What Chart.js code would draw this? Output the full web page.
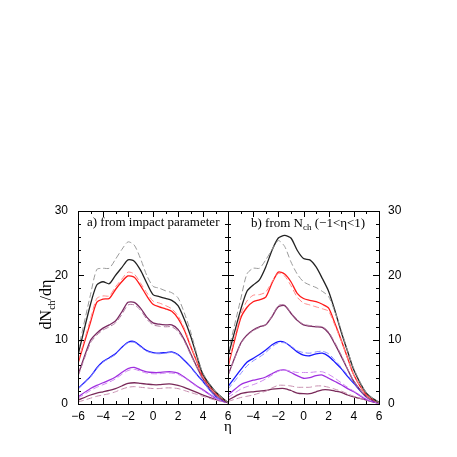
<!DOCTYPE html>
<html>
<head>
<meta charset="utf-8">
<script src="https://cdn.jsdelivr.net/npm/chart.js@4"></script>
<style>
html,body{margin:0;padding:0;background:#fff;width:457px;height:457px;overflow:hidden;}
#wa{position:absolute;left:0;top:190px;width:240px;height:250px;}
#wb{position:absolute;left:218px;top:190px;width:239px;height:250px;}
</style>
</head>
<body>
<div id="wa"><canvas id="ca" width="240" height="250"></canvas></div>
<div id="wb"><canvas id="cb" width="239" height="250"></canvas></div>
<script>
// pseudorapidity grid
const eta = [-6,-5,-4.5,-4,-3.5,-3,-2.5,-2,-1.5,-1,-0.5,0,0.5,1,1.5,2,2.5,3,3.5,4,5,6];

// panel a) from impact parameter
const a1Solid  = [7.6,15.5,18.5,19.0,18.7,20.0,21.2,22.4,22.2,20.8,18.8,17.0,16.7,16.4,16.1,15.3,13.2,10.6,7.5,4.6,1.9,0.2];
const a1Dashed = [8.3,17.0,20.9,21.1,21.1,22.5,24.0,25.2,24.7,22.6,20.0,18.3,18.0,17.6,17.3,16.5,14.2,11.3,7.8,4.8,1.9,0.2];
const a2Solid  = [6.3,12.7,15.8,16.3,16.4,17.8,19.0,19.9,19.7,18.4,16.8,15.5,15.1,14.8,14.4,13.3,11.5,9.0,6.6,4.2,1.7,0.2];
const a2Dashed = [6.6,13.2,16.4,16.8,16.8,18.2,19.4,20.5,20.2,18.8,17.3,16.0,15.7,15.3,14.8,13.7,11.8,9.2,6.7,4.2,1.7,0.2];
const a3Solid  = [4.5,9.9,11.0,11.8,12.3,12.9,14.3,15.8,15.8,14.9,13.5,12.6,12.4,12.3,12.3,11.6,10.0,7.9,5.8,3.9,1.4,0.2];
const a3Dashed = [4.3,9.5,10.7,11.5,12.0,12.6,13.9,15.4,15.4,14.6,13.2,12.3,12.1,12.0,12.0,11.3,9.8,7.7,5.7,3.8,1.4,0.2];
const a4Solid  = [2.4,4.3,5.6,6.6,7.2,7.8,8.8,9.6,9.7,9.0,8.3,8.0,7.9,8.0,8.1,7.7,6.8,5.8,4.6,3.5,1.2,0.2];
const a4Dashed = [2.3,4.2,5.5,6.5,7.1,7.7,8.7,9.5,9.6,8.9,8.2,7.9,7.8,7.9,8.0,7.6,6.7,5.7,4.5,3.4,1.2,0.2];
const a5Solid  = [1.1,2.4,2.9,3.3,3.7,4.2,4.9,5.5,5.7,5.3,5.0,4.9,4.9,5.0,5.0,4.8,4.2,3.5,2.8,2.2,0.9,0.2];
const a5Dashed = [0.9,2.1,2.6,3.0,3.4,3.9,4.6,5.2,5.4,5.1,4.8,4.7,4.7,4.8,4.8,4.6,4.1,3.4,2.7,2.1,0.9,0.2];
const a6Solid  = [0.6,1.4,1.7,1.9,2.1,2.4,2.8,3.2,3.3,3.2,3.1,3.0,3.0,3.1,3.1,2.9,2.6,2.2,1.8,1.4,0.7,0.2];
const a6Dashed = [0.3,0.9,1.2,1.4,1.6,1.9,2.3,2.6,2.7,2.6,2.5,2.4,2.4,2.5,2.5,2.4,2.1,1.8,1.5,1.2,0.6,0.2];

// panel b) from Nch (-1<eta<1)
const b1Solid  = [7.4,14.6,17.5,18.5,19.3,21.3,23.9,25.8,26.2,25.8,23.9,22.6,22.4,21.3,19.5,17.5,14.5,11.2,8.2,5.3,1.7,0.2];
const b1Dashed = [8.0,16.2,20.2,21.1,21.1,22.4,24.0,25.4,24.5,22.1,20.2,19.0,18.5,18.1,17.5,16.7,14.3,11.5,8.3,5.5,1.7,0.2];
const b2Solid  = [5.8,13.3,15.0,15.9,16.2,16.6,18.8,20.5,20.2,19.0,17.2,16.4,16.1,15.9,15.5,14.9,12.5,9.9,7.2,4.5,1.4,0.2];
const b2Dashed = [6.0,13.8,16.0,16.9,17.0,17.4,19.0,20.3,19.9,18.4,16.6,15.7,15.4,15.1,14.8,14.4,12.2,9.8,7.1,4.5,1.4,0.2];
const b3Solid  = [4.5,9.4,10.7,11.5,12.0,12.3,13.6,15.1,15.3,14.1,13.0,12.3,12.1,12.0,11.9,11.0,9.3,7.4,5.4,3.5,1.1,0.2];
const b3Dashed = [4.4,9.3,10.6,11.4,11.9,12.3,13.7,15.3,15.4,14.2,13.1,12.4,12.2,12.1,12.0,11.2,9.5,7.6,5.5,3.6,1.1,0.2];
const b4Solid  = [2.7,5.3,6.5,7.1,7.7,8.4,9.2,9.7,9.6,8.9,8.1,7.6,7.5,7.8,7.9,7.4,6.5,5.5,4.3,3.2,1.1,0.2];
const b4Dashed = [2.3,4.7,5.9,6.7,7.3,8.0,8.9,9.5,9.5,9.0,8.3,8.0,7.9,8.1,8.2,7.8,6.8,5.7,4.5,3.3,1.1,0.2];
const b5Solid  = [1.4,3.0,3.4,3.7,3.9,4.2,4.7,5.2,5.3,4.9,4.4,4.0,4.1,4.4,4.5,4.0,3.5,3.0,2.4,1.9,0.7,0.1];
const b5Dashed = [1.0,2.3,2.7,3.0,3.4,3.9,4.5,5.1,5.3,5.1,4.9,4.9,4.9,5.0,5.0,4.6,4.0,3.3,2.6,2.0,0.8,0.1];
const b6Solid  = [0.6,1.6,1.8,1.9,2.0,2.1,2.3,2.4,2.4,2.1,1.7,1.6,1.6,1.9,2.2,2.2,2.0,1.8,1.4,1.1,0.6,0.1];
const b6Dashed = [0.4,1.0,1.2,1.4,1.7,2.0,2.5,2.9,2.9,2.8,2.6,2.6,2.6,2.8,2.8,2.6,2.3,2.0,1.6,1.2,0.6,0.1];

const xTickValues = [-6,-4,-2,0,2,4,6];
const yTickValues = [0,10,20,30];

const solidColors  = ['#222222','#ff1a1a','#7a2a62','#1a1aff','#a030e0','#7a2a5a'];
const dashedColors = ['#9a9a9a','#ff8a8a','#b07aa0','#8a8aff','#d08af0','#c890b0'];

function makeSets(solids, dashes){
  const sets = [];
  for (let i = 0; i < solids.length; i++) {
    sets.push({data: dashes[i].map((v,k)=>({x:eta[k],y:v})), borderColor: dashedColors[i], borderWidth: 1, borderDash:[6,3], pointRadius:0, tension:0.25, fill:false});
    sets.push({data: solids[i].map((v,k)=>({x:eta[k],y:v})), borderColor: solidColors[i], borderWidth: 1.3, pointRadius:0, tension:0.25, fill:false});
  }
  return sets;
}

function fmt(v){ return v < 0 ? '\u2212' + Math.abs(v) : String(v); }

const tickPlugin = {
  id: 'inTicks',
  afterDatasetsDraw(chart){
    const ctx = chart.ctx, a = chart.chartArea;
    const xs = chart.scales.x, ys = chart.scales.y;
    ctx.save();
    ctx.strokeStyle = '#000'; ctx.lineWidth = 1;
    ctx.beginPath();
    xs.ticks.forEach(t=>{
      const p = Math.round(xs.getPixelForValue(t.value)) + 0.5;
      const len = (xTickValues.includes(t.value)) ? 6 : 3;
      ctx.moveTo(p, a.bottom); ctx.lineTo(p, a.bottom - len);
      ctx.moveTo(p, a.top); ctx.lineTo(p, a.top + len);
    });
    ys.ticks.forEach(t=>{
      const p = Math.round(ys.getPixelForValue(t.value)) + 0.5;
      const len = (yTickValues.includes(t.value)) ? 6 : 3;
      ctx.moveTo(a.left, p); ctx.lineTo(a.left + len, p);
      ctx.moveTo(a.right, p); ctx.lineTo(a.right - len, p);
    });
    ctx.stroke();
    ctx.strokeRect(Math.round(a.left)+0.5, Math.round(a.top)+0.5, Math.round(a.right-a.left), Math.round(a.bottom-a.top));
    ctx.restore();
  }
};

function textPluginA(){
  return {
    id:'textA',
    afterDraw(chart){
      const ctx = chart.ctx, a = chart.chartArea;
      ctx.save();
      ctx.fillStyle = '#000';
      ctx.font = '13px "Liberation Serif"';
      ctx.textBaseline = 'middle';
      ctx.fillText('a) from impact parameter', a.left + 9, a.top + 12);
      // x title
      ctx.font = '15px "Liberation Serif"';
      ctx.textAlign = 'center';
      ctx.textBaseline = 'alphabetic';
      ctx.fillText('\u03b7', a.right, a.bottom + 27);
      // y title rotated
      ctx.translate(51, (a.top + a.bottom)/2 - 3);
      ctx.rotate(-Math.PI/2);
      ctx.textAlign = 'left';
      ctx.font = '16px "Liberation Serif"';
      const w1 = ctx.measureText('dN').width;
      ctx.font = '10px "Liberation Serif"';
      const w2 = ctx.measureText('ch').width;
      ctx.font = '16px "Liberation Serif"';
      const w3 = ctx.measureText('/d\u03b7').width;
      let x0 = -(w1 + w2 + w3)/2;
      ctx.fillText('dN', x0, 0);
      ctx.font = '10px "Liberation Serif"';
      ctx.fillText('ch', x0 + w1, 4);
      ctx.font = '16px "Liberation Serif"';
      ctx.fillText('/d\u03b7', x0 + w1 + w2, 0);
      ctx.restore();
    }
  };
}

function textPluginB(){
  return {
    id:'textB',
    afterDraw(chart){
      const ctx = chart.ctx, a = chart.chartArea;
      ctx.save();
      ctx.fillStyle = '#000';
      ctx.textBaseline = 'alphabetic';
      let x = a.left + 23, y = a.top + 16;
      ctx.font = '13px "Liberation Serif"';
      ctx.fillText('b) from N', x, y);
      x += ctx.measureText('b) from N').width;
      ctx.font = '9px "Liberation Serif"';
      ctx.fillText('ch', x, y + 3);
      x += ctx.measureText('ch').width;
      ctx.font = '13px "Liberation Serif"';
      ctx.fillText(' (\u22121<\u03b7<1)', x, y);
      ctx.restore();
    }
  };
}

function makeChart(id, solids, dashes, side, padding, extra){
  return new Chart(document.getElementById(id), {
    type: 'line',
    data: { datasets: makeSets(solids, dashes) },
    options: {
      responsive: false,
      animation: false,
      layout: { padding: padding },
      plugins: { legend: {display:false}, tooltip: {enabled:false} },
      scales: {
        x: {
          type: 'linear', min: -6, max: 6,
          grid: { display: false, drawTicks: false },
          border: { display: false },
          afterFit(s){ s.height = 36; },
          afterBuildTicks(s){ const t=[]; for(let v=-6; v<=6; v++) t.push({value:v}); s.ticks = t; },
          ticks: {
            autoSkip: false, maxRotation: 0, padding: 5, color: '#000',
            font: { family: '"Liberation Sans"', size: 12 },
            callback(v){ if (side==='right' && v===-6) return ''; return xTickValues.includes(v) ? fmt(v) : ''; }
          }
        },
        y: {
          type: 'linear', min: 0, max: 30, position: side,
          grid: { display: false, drawTicks: false },
          border: { display: false },
          afterFit(s){ s.width = 78; },
          afterBuildTicks(s){ const t=[]; for(let v=0; v<=30; v+=2) t.push({value:v}); s.ticks = t; },
          ticks: {
            autoSkip: false, padding: side==='left' ? 10 : 9, color: '#000',
            font: { family: '"Liberation Sans"', size: 12 },
            callback(v){ return yTickValues.includes(v) ? String(v) : ''; }
          }
        }
      }
    },
    plugins: [tickPlugin, extra]
  });
}

makeChart('ca', [a1Solid,a2Solid,a3Solid,a4Solid,a5Solid,a6Solid], [a1Dashed,a2Dashed,a3Dashed,a4Dashed,a5Dashed,a6Dashed], 'left', {top:21, right:12, left:0, bottom:0}, textPluginA());
makeChart('cb', [b1Solid,b2Solid,b3Solid,b4Solid,b5Solid,b6Solid], [b1Dashed,b2Dashed,b3Dashed,b4Dashed,b5Dashed,b6Dashed], 'right', {top:21, right:0, left:10, bottom:0}, textPluginB());
</script>
</body>
</html>
